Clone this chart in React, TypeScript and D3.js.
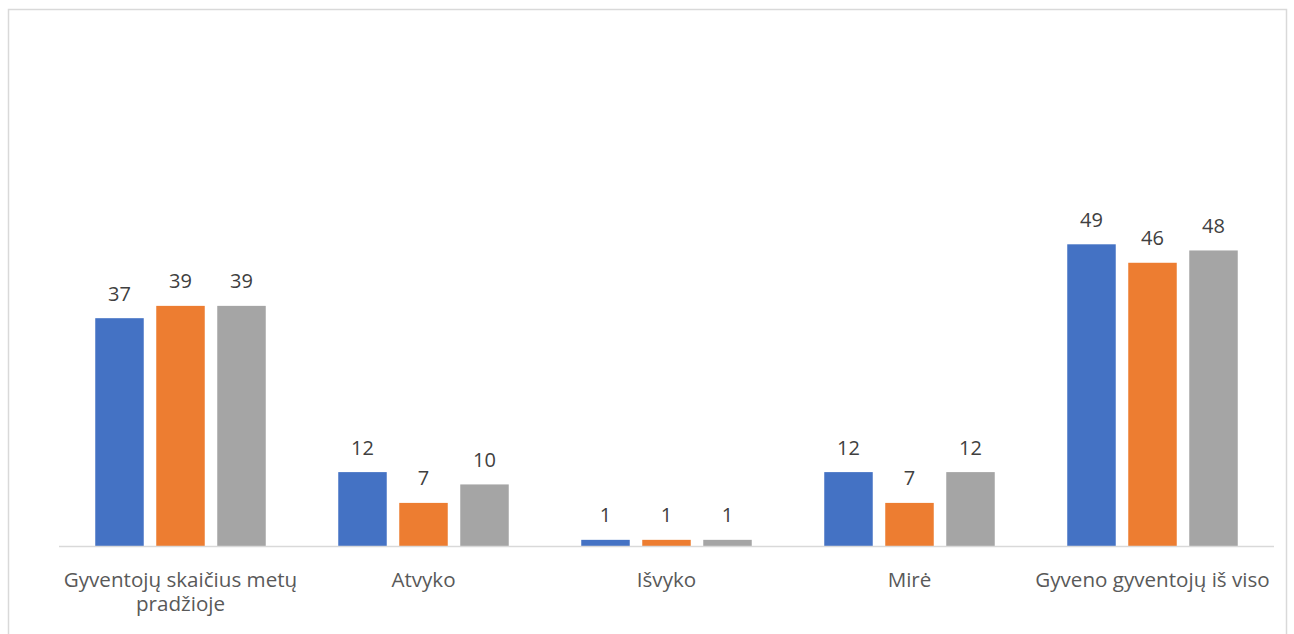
import React from "react";
import * as d3 from "d3";

const categories = [
  ["Gyventojų skaičius metų", "pradžioje"],
  ["Atvyko"],
  ["Išvyko"],
  ["Mirė"],
  ["Gyveno gyventojų iš viso"],
];
const seriesNames = ["S1", "S2", "S3"];
const series1 = [37, 12, 1, 12, 49];
const series2 = [39, 7, 1, 7, 46];
const series3 = [39, 10, 1, 12, 48];
const colors = ["#4472C4", "#ED7D31", "#A5A5A5"];

const W = 1294;
const H = 634;
const FONT = "'Open Sans', 'Noto Sans', sans-serif";

export default function App() {
  const keys = categories.map((c) => c.join(" "));
  const values = [series1, series2, series3];
  const x = d3.scaleBand<string>().domain(keys).range([59, 1274]).padding(0);
  const y = d3.scaleLinear().domain([0, 49]).range([546, 244.3]);
  const groupHalf = 85.25;
  const inner = d3
    .scaleBand<string>()
    .domain(seriesNames)
    .range([-groupHalf, groupHalf])
    .paddingInner(0.205)
    .paddingOuter(0);

  return (
    <svg
      width={W}
      height={H}
      style={{ position: "absolute", left: 0, top: 0, background: "#fff" }}
      fontFamily={FONT}
    >
      <rect x={8.5} y={9.5} width={1278} height={700} fill="#fff" stroke="#D9D9D9" strokeWidth={1.5} />
      {keys.map((k, ci) => {
        const cx = (x(k) as number) + x.bandwidth() / 2;
        return (
          <g key={k}>
            {seriesNames.map((s, si) => {
              const v = values[si][ci];
              const bx = cx + (inner(s) as number);
              const top = y(v);
              return (
                <g key={s}>
                  <rect x={bx} y={top} width={inner.bandwidth()} height={y(0) - top} fill={colors[si]} />
                  <text
                    x={bx + inner.bandwidth() / 2}
                    y={top - 17.5}
                    textAnchor="middle"
                    fontSize={20}
                    fill="#404040"
                  >
                    {v}
                  </text>
                </g>
              );
            })}
            <text x={cx} y={587} textAnchor="middle" fontSize={20.6} fill="#595959">
              {categories[ci].map((line, li) => (
                <tspan key={li} x={cx} dy={li === 0 ? 0 : 24}>
                  {line}
                </tspan>
              ))}
            </text>
          </g>
        );
      })}
      <line x1={59} x2={1274} y1={546.5} y2={546.5} stroke="#D9D9D9" strokeWidth={1.5} />
    </svg>
  );
}
